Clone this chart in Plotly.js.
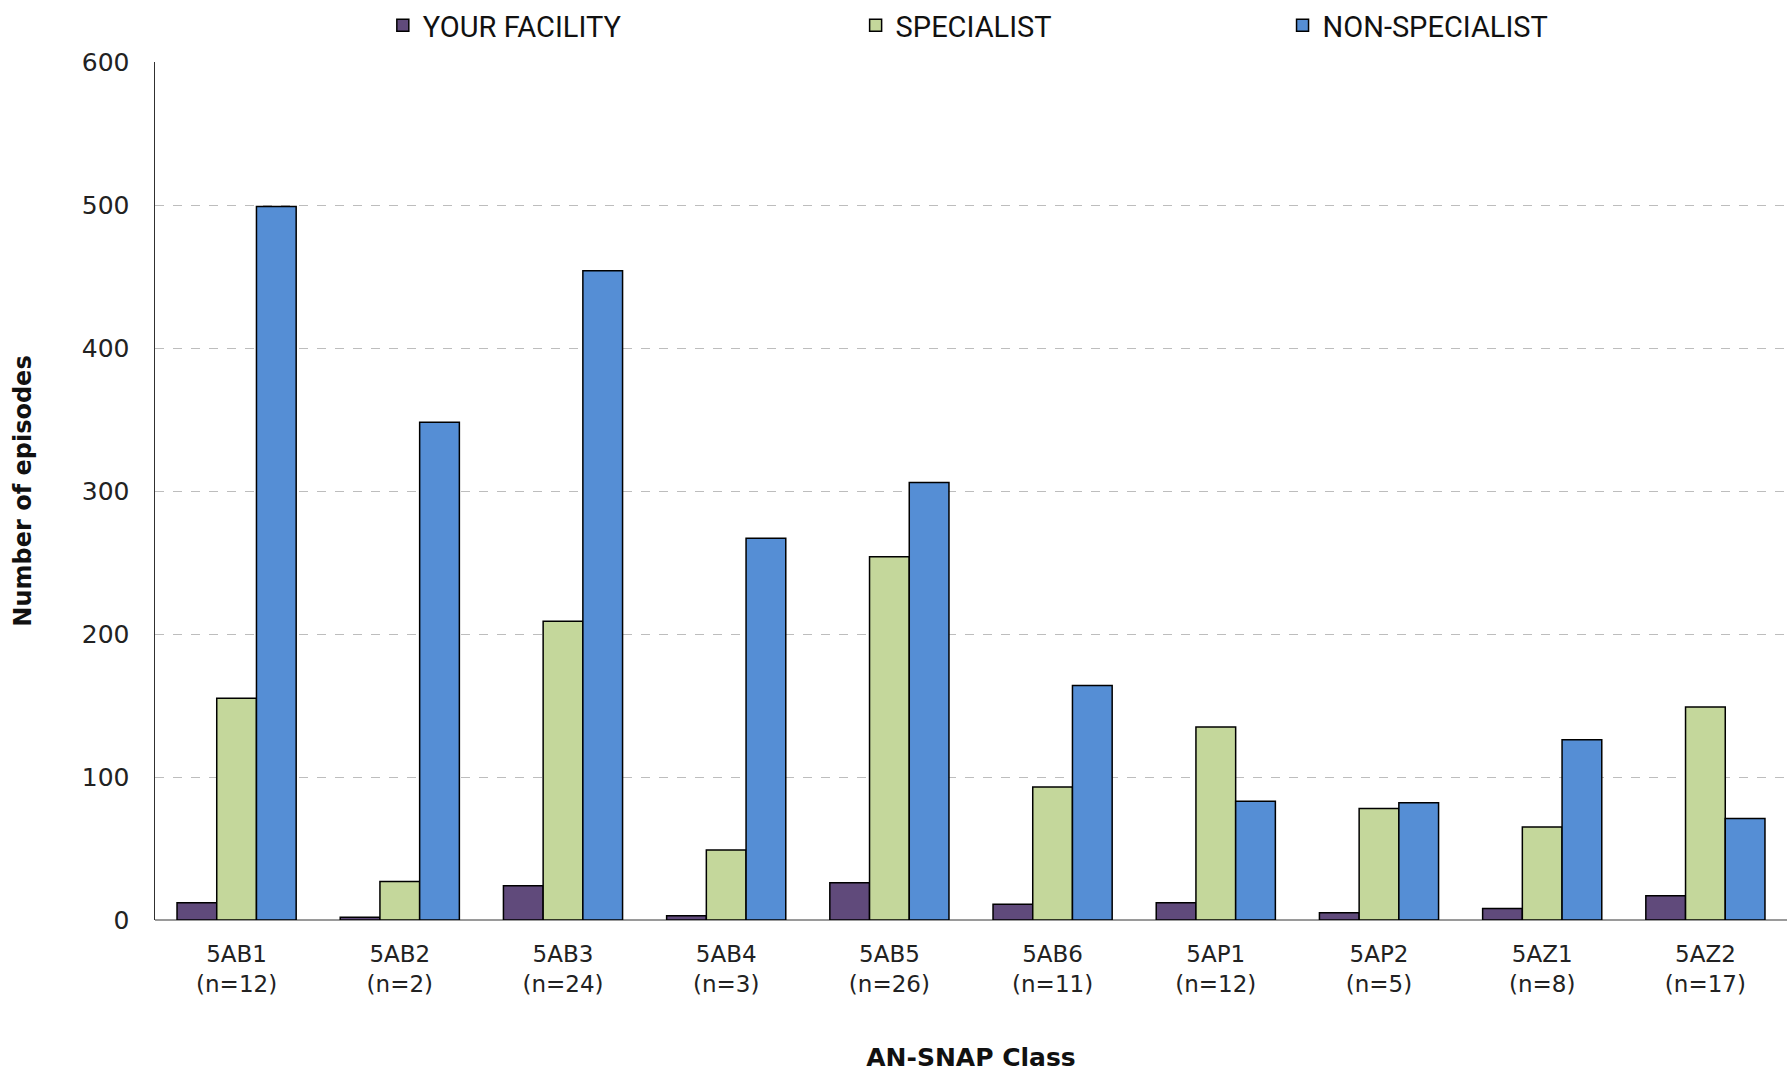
<!DOCTYPE html>
<html>
<head>
<meta charset="utf-8">
<script src="https://cdn.plot.ly/plotly-3.0.1.min.js"></script>
<style>html,body{margin:0;padding:0;background:#fff;}#chart{width:1787px;height:1074px;}</style>
</head>
<body>
<div id="chart"></div>
<script>
const classes = ["5AB1","5AB2","5AB3","5AB4","5AB5","5AB6","5AP1","5AP2","5AZ1","5AZ2"];
const nCounts = [12,2,24,3,26,11,12,5,8,17];
const yourFacility = [12,2,24,3,26,11,12,5,8,17];
const specialist = [155,27,209,49,254,93,135,78,65,149];
const nonSpecialist = [499,348,454,267,306,164,83,82,126,71];
const seriesNames = ["YOUR FACILITY","SPECIALIST","NON-SPECIALIST"];
const yTicks = [0,100,200,300,400,500,600];

const tickText = classes.map((c,i)=> c + "<br>(n=" + nCounts[i] + ")");
const colors = ["#604a7b","#c4d79b","#558ed5"];
const legendIds = ["legend","legend2","legend3"];
const mk = (i, y) => ({
  type: "bar", name: seriesNames[i], x: classes, y: y, legend: legendIds[i],
  marker: {color: colors[i], line: {color: "#000", width: 1.5}},
  hoverinfo: "skip"
});
const data = [mk(0, yourFacility), mk(1, specialist), mk(2, nonSpecialist)];
const legFont = {family: "Roboto", size: 29, color: "#111"};
const leg = (x) => ({
  orientation: "h", x: x, xanchor: "left", y: 1.0723, yanchor: "top",
  itemwidth: 30, font: legFont, bgcolor: "rgba(0,0,0,0)"
});
const layout = {
  width: 1787, height: 1074,
  paper_bgcolor: "#fff", plot_bgcolor: "#fff",
  margin: {l: 155, r: 0, t: 62, b: 154, pad: 0},
  barmode: "group", bargap: 0.27, bargroupgap: 0,
  font: {family: "DejaVu Sans", color: "#222", size: 22},
  showlegend: true,
  legend: leg(0.1396),
  legend2: leg(0.4293),
  legend3: leg(0.6909),
  xaxis: {
    type: "category", tickmode: "array", tickvals: classes, ticktext: tickText,
    showgrid: false, showline: false, ticks: "", zeroline: false,
    tickfont: {family: "DejaVu Sans", size: 23, color: "#222"},
    ticklabelstandoff: 18,
    title: {text: "AN-SNAP Class", font: {family: "DejaVu Sans", size: 25, color: "#111", weight: "bold"}, standoff: 52},
    automargin: false
  },
  yaxis: {
    range: [0, 600], tickmode: "array", tickvals: yTicks,
    showgrid: true, gridcolor: "#bdbdbd", griddash: "dash", gridwidth: 1,
    zeroline: true, zerolinecolor: "#9a9a9a", zerolinewidth: 2,
    showline: true, linecolor: "#303030", linewidth: 1.5,
    ticks: "", ticklabelstandoff: 19,
    tickfont: {family: "DejaVu Sans", size: 25, color: "#222"},
    title: {text: "Number of episodes", font: {family: "DejaVu Sans", size: 24, color: "#111", weight: "bold"}, standoff: 43},
    automargin: false
  }
};
Plotly.newPlot("chart", data, layout, {displayModeBar: false, staticPlot: true});
</script>
</body>
</html>
